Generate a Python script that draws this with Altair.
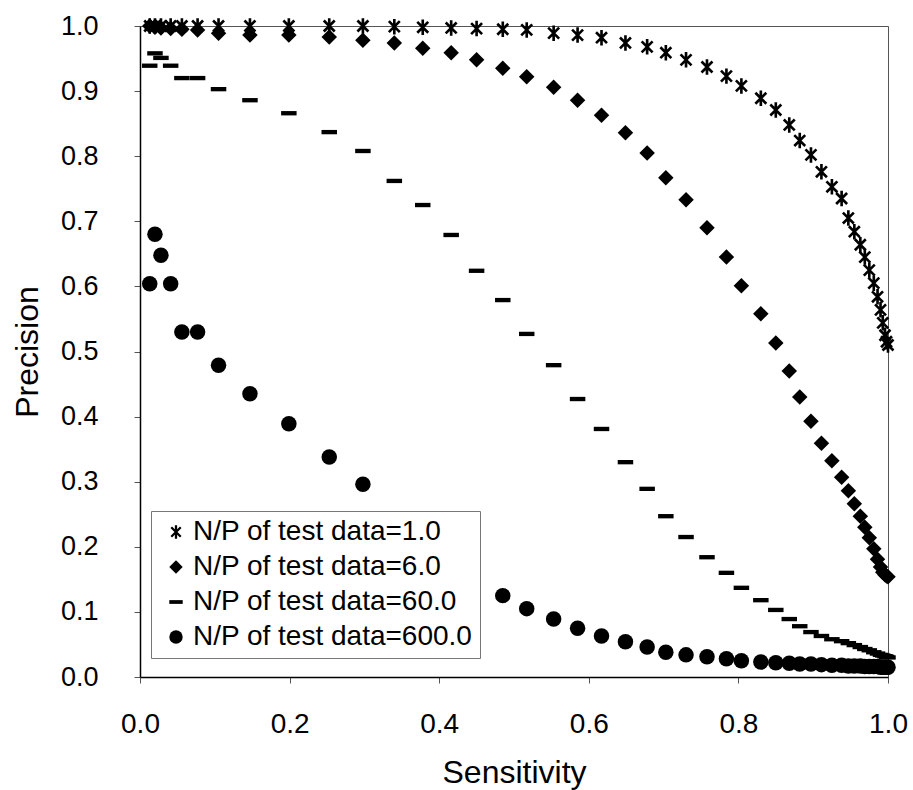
import altair as alt
import pandas as pd

# Common sensitivity grid shared by all four series
sensitivity = [0.013, 0.020, 0.028, 0.041, 0.056, 0.077, 0.105, 0.147, 0.199, 0.253,
               0.298, 0.340, 0.378, 0.416, 0.450, 0.485, 0.517, 0.553, 0.585, 0.617,
               0.649, 0.678, 0.703, 0.730, 0.758, 0.784, 0.804, 0.830, 0.850, 0.868,
               0.882, 0.897, 0.911, 0.925, 0.938, 0.947, 0.955, 0.963, 0.969, 0.975,
               0.981, 0.986, 0.990, 0.993, 0.996, 0.998, 1.000]

precision_np1 = [1.0, 1.0, 1.0, 1.0, 1.0, 1.0, 1.0, 1.0, 1.0, 1.0,
                 1.0, 0.999, 0.998, 0.997, 0.996, 0.995, 0.994, 0.989, 0.986, 0.982,
                 0.974, 0.968, 0.959, 0.948, 0.937, 0.923, 0.908, 0.889, 0.871, 0.848,
                 0.824, 0.802, 0.776, 0.753, 0.735, 0.705, 0.684, 0.664, 0.645, 0.625,
                 0.605, 0.584, 0.564, 0.544, 0.525, 0.515, 0.510]

precision_np6 = [1.0, 0.998, 0.997, 0.996, 0.995, 0.994, 0.989, 0.986, 0.986, 0.983,
                 0.978, 0.974, 0.966, 0.959, 0.948, 0.935, 0.922, 0.906, 0.886, 0.863,
                 0.836, 0.805, 0.767, 0.733, 0.690, 0.645, 0.601, 0.558, 0.513, 0.470,
                 0.430, 0.393, 0.359, 0.332, 0.307, 0.286, 0.266, 0.247, 0.230, 0.214,
                 0.197, 0.181, 0.169, 0.161, 0.157, 0.155, 0.154]

precision_np60 = [0.939, 0.958, 0.951, 0.939, 0.920, 0.920, 0.903, 0.886, 0.866, 0.837,
                  0.808, 0.762, 0.725, 0.679, 0.624, 0.579, 0.527, 0.479, 0.427, 0.381,
                  0.330, 0.289, 0.247, 0.215, 0.184, 0.160, 0.137, 0.118, 0.103, 0.089,
                  0.078, 0.069, 0.063, 0.058, 0.055, 0.052, 0.049, 0.046, 0.043, 0.041,
                  0.038, 0.036, 0.034, 0.033, 0.032, 0.031, 0.030]

# points hidden behind the legend box are left out (None)
precision_np600 = [0.604, 0.680, 0.648, 0.604, 0.530, 0.530, 0.479, 0.435, 0.389, 0.338,
                   0.296, None, None, None, None, 0.125, 0.105, 0.089, 0.075, 0.063,
                   0.054, 0.046, 0.038, 0.034, 0.031, 0.028, 0.025, 0.023, 0.022, 0.021,
                   0.020, 0.020, 0.019, 0.018, 0.018, 0.017, 0.017, 0.017, 0.016, 0.016,
                   0.016, 0.016, 0.015, 0.015, 0.015, 0.015, 0.015]

series_labels = ["N/P of test data=1.0", "N/P of test data=6.0",
                 "N/P of test data=60.0", "N/P of test data=600.0"]

y_ticks = [0.0, 0.1, 0.2, 0.3, 0.4, 0.5, 0.6, 0.7, 0.8, 0.9, 1.0]
x_ticks = [0.0, 0.2, 0.4, 0.6, 0.8, 1.0]

rows = []
for label, values in zip(series_labels,
                         [precision_np1, precision_np6, precision_np60, precision_np600]):
    for s, p in zip(sensitivity, values):
        if p is not None:
            rows.append({"Sensitivity": s, "Precision": p, "series": label})
df = pd.DataFrame(rows)

# filled asterisk: a vertical bar plus two diagonal bars (same winding)
ASTERISK = ("M-0.17,-1L0.17,-1L0.17,1L-0.17,1Z"
            "M0.587,0.827L-0.827,-0.587L-0.587,-0.827L0.827,0.587Z"
            "M0.827,-0.587L-0.587,0.827L-0.827,0.587L0.587,-0.827Z")
DASH = "M-1,-0.28L1,-0.28L1,0.28L-1,0.28Z"

FONT = "Liberation Sans"

chart = alt.Chart(df).mark_point(filled=True, opacity=1, size=240, color="black").encode(
    x=alt.X("Sensitivity:Q",
            scale=alt.Scale(domain=[0, 1], nice=False, zero=False),
            axis=alt.Axis(values=x_ticks, format=".1f", labelFontSize=28,
                          labelFlush=False, labelPadding=27, titlePadding=19,
                          titleFontSize=32),
            title="Sensitivity"),
    y=alt.Y("Precision:Q",
            scale=alt.Scale(domain=[0, 1], nice=False),
            axis=alt.Axis(values=y_ticks, format=".1f", labelFontSize=27,
                          labelFlush=False, labelPadding=36, titlePadding=16,
                          titleFontSize=32),
            title="Precision"),
    shape=alt.Shape("series:N",
                    scale=alt.Scale(domain=series_labels,
                                    range=[ASTERISK, "diamond", DASH, "circle"]),
                    legend=alt.Legend(orient="none", legendX=11, legendY=485,
                                      title=None, fillColor="white",
                                      strokeColor="#777", padding=7,
                                      labelFont=FONT, labelFontSize=28,
                                      labelColor="black", labelLimit=400,
                                      symbolSize=180, symbolFillColor="black",
                                      symbolStrokeWidth=0,
                                      symbolOffset=4, labelOffset=3,
                                      rowPadding=7)),
).properties(
    width=748, height=651,
    padding={"left": 140, "top": 26, "right": 25, "bottom": 113},
    autosize=alt.AutoSizeParams(type="none"),
).configure_view(
    stroke="#555", strokeWidth=1
).configure_axis(
    grid=False, domainColor="black", domainWidth=1.5,
    tickColor="#555", tickSize=6,
    labelFont=FONT, labelColor="black",
    titleFont=FONT, titleColor="black", titleFontWeight="normal",
)

chart.save("out.html", embed_options={"renderer": "svg", "actions": False})
